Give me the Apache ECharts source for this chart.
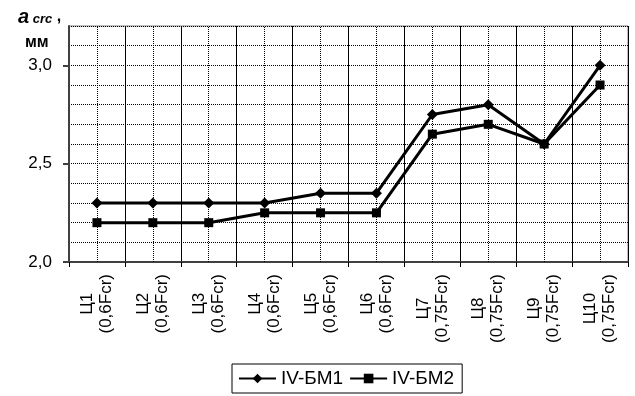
<!DOCTYPE html>
<html>
<head>
<meta charset="utf-8">
<script src="https://cdn.jsdelivr.net/npm/echarts@6/dist/echarts.min.js"></script>
<style>
  html, body { margin: 0; padding: 0; background: #fff; }
  #chart { width: 635px; height: 396px; }
</style>
</head>
<body>
<div id="chart"></div>
<script>
// Specimen codes and their load level
const categories = ['Ц1', 'Ц2', 'Ц3', 'Ц4', 'Ц5', 'Ц6', 'Ц7', 'Ц8', 'Ц9', 'Ц10'];
const loadLevels = ['(0,6Fcr)', '(0,6Fcr)', '(0,6Fcr)', '(0,6Fcr)', '(0,6Fcr)', '(0,6Fcr)',
                    '(0,75Fcr)', '(0,75Fcr)', '(0,75Fcr)', '(0,75Fcr)'];

// Crack spacing a_crc, mm
const seriesNames = ['IV-БМ1', 'IV-БМ2'];
const bm1 = [2.30, 2.30, 2.30, 2.30, 2.35, 2.35, 2.75, 2.80, 2.60, 3.00];
const bm2 = [2.20, 2.20, 2.20, 2.25, 2.25, 2.25, 2.65, 2.70, 2.60, 2.90];

// Y axis range and labelled ticks
const yMin = 2.0, yMax = 3.2, yGridStep = 0.1, yLabelStep = 0.5;

const FONT = '"Liberation Sans", Arial, sans-serif';
const chart = echarts.init(document.getElementById('chart'), null, { renderer: 'canvas' });

// dotted vertical line through the middle of every category
const centerLines = categories.map(c => ({ xAxis: c }));

chart.setOption({
  animation: false,
  backgroundColor: '#fff',
  textStyle: { fontFamily: FONT, color: '#000' },
  title: [
    {
      text: '{a|a}{b| crc}{c| ,}',
      left: 13, top: 2,
      textStyle: {
        rich: {
          a: { fontFamily: FONT, fontStyle: 'italic', fontSize: 20, color: '#000' },
          b: { fontFamily: FONT, fontStyle: 'italic', fontSize: 13, color: '#000', padding: [4, 0, 0, 0] },
          c: { fontFamily: FONT, fontSize: 16, color: '#000' }
        }
      }
    },
    {
      text: 'мм',
      left: 20, top: 30,
      textStyle: { fontFamily: FONT, fontSize: 16, fontWeight: 'bold', color: '#000' }
    }
  ],
  grid: {
    left: 69, right: 7, top: 26, bottom: 134,
    show: true, borderColor: '#808080', borderWidth: 1, backgroundColor: 'transparent'
  },
  legend: {
    left: 232, top: 364,
    data: seriesNames,
    borderColor: '#000', borderWidth: 1,
    padding: [5, 8, 5, 6],
    itemWidth: 37, itemHeight: 12, itemGap: 6,
    textStyle: { fontFamily: FONT, fontSize: 19, color: '#000' }
  },
  xAxis: {
    type: 'category',
    data: categories,
    boundaryGap: true,
    axisLine: { lineStyle: { color: '#404040', width: 2 } },
    axisTick: { show: true, length: 5, interval: 0, lineStyle: { color: '#000', width: 1 } },
    splitLine: { show: true, interval: 0, lineStyle: { color: '#000', width: 1 } },
    axisLabel: {
      interval: 0,
      rotate: 90,
      margin: 12,
      formatter: (v, i) => '{t|' + v + '}\n{t|' + loadLevels[i] + '}',
      rich: {
        t: { fontFamily: FONT, fontSize: 17, color: '#000', align: 'center', lineHeight: 19 }
      }
    }
  },
  yAxis: [
    {
      type: 'value',
      min: yMin, max: yMax, interval: yGridStep,
      axisLine: { show: false },
      axisTick: { show: false },
      axisLabel: { show: false },
      splitLine: { show: true, lineStyle: { color: '#000', width: 1, type: [1, 1] } }
    },
    {
      type: 'value',
      position: 'left',
      min: yMin, max: yMax, interval: yLabelStep,
      axisLine: { show: true, onZero: false, lineStyle: { color: '#404040', width: 2 } },
      axisTick: { show: true, length: 6, lineStyle: { color: '#404040', width: 2 } },
      splitLine: { show: false },
      axisLabel: {
        showMaxLabel: false,
        margin: 17,
        fontFamily: FONT, fontSize: 17, color: '#000',
        formatter: v => v.toFixed(1).replace('.', ',')
      }
    }
  ],
  series: [
    {
      name: seriesNames[0],
      type: 'line',
      data: bm1,
      yAxisIndex: 0,
      symbol: 'diamond', symbolSize: 11,
      lineStyle: { color: '#000', width: 3 },
      itemStyle: { color: '#000' },
      markLine: {
        silent: true,
        symbol: 'none',
        label: { show: false },
        lineStyle: { color: '#000', width: 1, type: [1, 1] },
        data: centerLines
      },
      z: 3
    },
    {
      name: seriesNames[1],
      type: 'line',
      data: bm2,
      yAxisIndex: 0,
      symbol: 'rect', symbolSize: 9,
      lineStyle: { color: '#000', width: 3 },
      itemStyle: { color: '#000' },
      z: 3
    }
  ]
});
</script>
</body>
</html>
